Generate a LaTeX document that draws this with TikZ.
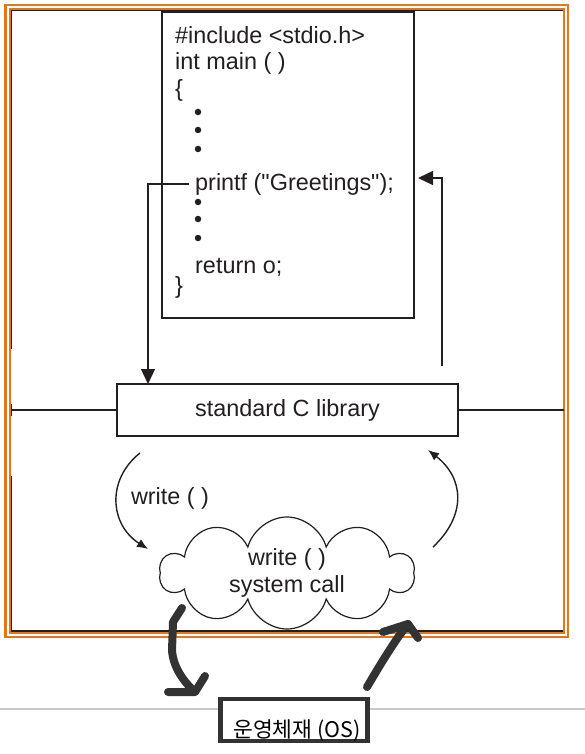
\documentclass[tikz,border=0pt]{standalone}
\usepackage{fontspec}
\setmainfont{Liberation Sans}[Ligatures=TeXOff]
\newfontfamily\hangulfont{Noto Sans CJK KR}
\usetikzlibrary{arrows.meta,positioning,shapes.symbols,calc}
\definecolor{ink}{HTML}{231F20}
\definecolor{frameorange}{HTML}{E0781E}
\definecolor{marker}{HTML}{333333}
\definecolor{rulegray}{HTML}{C8C8C8}

\begin{document}
\begin{tikzpicture}[x=1pt,y=-1pt,font=\fontsize{23.4}{27}\selectfont,text=ink,>={Latex[length=11pt,width=9pt]},box/.style={draw=ink, line width=1.4pt, fill=white},codeline/.style={anchor=base west, inner sep=0pt},dot/.style={circle, fill=ink, inner sep=0pt, minimum size=6.5pt},link/.style={draw=ink, line width=1.4pt},flow/.style={link, -{Triangle[length=15pt,width=14pt]}},handstroke/.style={draw=marker, line width=8pt, line cap=round, line join=round}]
\useasboundingbox (0,0) rectangle (585,754);
\draw[rulegray, line width=2pt] (0,709) -- (585,709);
\draw[ink, line width=1.3pt] (11,349) -- (11,10.5) -- (563,10.5);\draw[ink, line width=1.3pt] (11,476) -- (11,631) -- (564,631);\draw[ink, line width=1.3pt] (11,404) -- (11,416);
\draw[frameorange, line width=2.2pt, double=white, double distance=2pt] (7.5,7) rectangle (566,635);
\node[box, minimum width=252pt, minimum height=306pt] (prog) at (288,165) {};
\node[codeline] (incl) at (175,44) {\#include <stdio.h>};\node[codeline] (mainl) at (175,70) {int main ( )};\node[codeline] (open) at (175,97) {\{};
\foreach \y in {112,130,149,202,219,238}\node[dot] at (198,\y) {};
\node[codeline] (printf) at (195,190) {printf ("Greetings");};\node[codeline] (ret) at (195,273) {return o;};\node[codeline] (close) at (175,293) {\}};
\node[box, minimum width=341pt, minimum height=52pt] (lib) at (287.5,410) {standard C library};
\coordinate (leftwall) at (11,410);\coordinate (rightwall) at (564,410);\coordinate (callin) at (148,384);\coordinate (retstart) at (442,366);\coordinate (retend) at (418,178);
\draw[link] (leftwall) -- (lib.west);\draw[link] (lib.east) -- (rightwall);
\draw[flow] ([xshift=-6pt]printf.west) -| (callin);\draw[flow] (retstart) |- (retend);
\node[cloud, draw=ink, line width=1.2pt, fill=white, cloud puffs=10, aspect=2.3, minimum width=254pt, minimum height=112pt, inner sep=0pt, align=center] (syscall) at (287,573) {write ( )\\system call};
\node (wlabel) at (170,498) {write ( )};
\coordinate (downfrom) at (140,453);\coordinate (downto) at (148,549);\coordinate (upfrom) at (433,547);\coordinate (upto) at (428,450);
\draw[link, ->] (downfrom) .. controls (106,480) and (110,525) .. (downto);\draw[link, ->] (upfrom) .. controls (467,515) and (464,478) .. (upto);
\node[draw=marker, line width=4.5pt, fill=white, minimum width=147pt, minimum height=42pt] (os) at (294,720) {};
\node[font=\hangulfont\fontsize{21.5}{25}\selectfont, anchor=base, text=black] (oslabel) at (297,737) {운영체재 (OS)};
\coordinate (handA) at (182,608);\coordinate (tipA) at (195,692);\coordinate (handB) at (367,687);\coordinate (tipB) at (408,624);
\draw[handstroke] (handA) -- (173,622) -- (172,650) .. controls (173,668) and (185,683) .. (tipA);\draw[handstroke] ($(tipA)+(-27,0)$) -- (tipA) -- ($(tipA)+(10,-16)$);
\draw[handstroke] (handB) .. controls (380,665) and (395,640) .. (tipB);\draw[handstroke] ($(tipB)+(-25,8)$) -- (tipB) -- ($(tipB)+(10,14)$);
\end{tikzpicture}
\end{document}
